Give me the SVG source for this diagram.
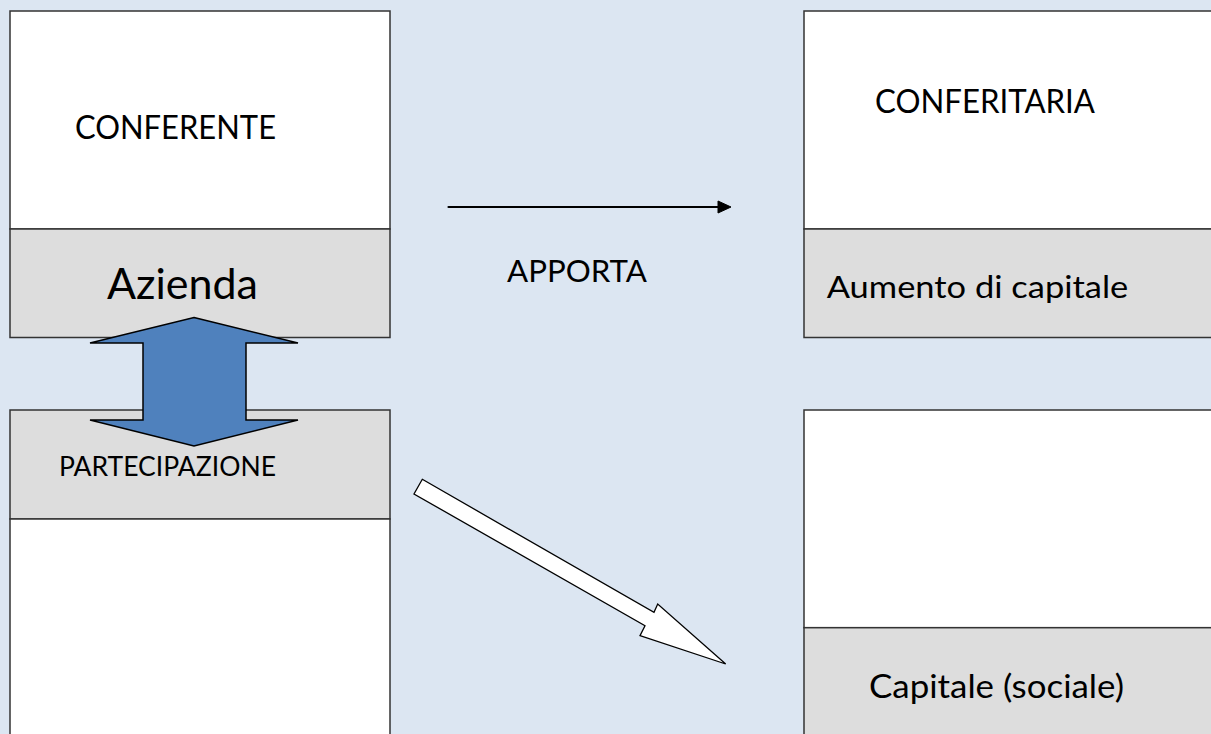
<svg xmlns="http://www.w3.org/2000/svg" width="1211" height="734" viewBox="0 0 1211 734">
<style>
.white{fill:#FFFFFF;stroke:#333333;stroke-width:1.5}
.grey{fill:#DDDDDD;stroke:#333333;stroke-width:1.5}
.t{font-family:Lato,"Liberation Sans",Arial,sans-serif;fill:#000000}
</style>
<rect x="0" y="0" width="1211" height="734" fill="#DCE6F2"/>
<g id="conferente">
<rect class="white" x="10" y="11" width="380" height="218"/>
<rect class="grey" x="10" y="229" width="380" height="108.5"/>
<text class="t" x="75" y="138.5" font-size="33" textLength="201" lengthAdjust="spacingAndGlyphs">CONFERENTE</text>
<text class="t" x="107" y="298.5" font-size="42" textLength="151" lengthAdjust="spacingAndGlyphs">Azienda</text>
</g>
<g id="partecipazione">
<rect class="grey" x="10" y="410" width="380" height="109"/>
<rect class="white" x="10" y="519" width="380" height="225"/>
<text class="t" x="59" y="475.7" font-size="27" textLength="217" lengthAdjust="spacingAndGlyphs">PARTECIPAZIONE</text>
</g>
<g id="conferitaria">
<rect class="white" x="804" y="11" width="420" height="218"/>
<rect class="grey" x="804" y="229" width="420" height="108.5"/>
<text class="t" x="875" y="113.3" font-size="32" textLength="220" lengthAdjust="spacingAndGlyphs">CONFERITARIA</text>
<text class="t" x="826.7" y="298.3" font-size="31" textLength="301.6" lengthAdjust="spacingAndGlyphs">Aumento di capitale</text>
</g>
<g id="capitale">
<rect class="white" x="804" y="410" width="420" height="217.7"/>
<rect class="grey" x="804" y="627.7" width="420" height="120"/>
<text class="t" x="869" y="698.3" font-size="32.5" textLength="255" lengthAdjust="spacingAndGlyphs">Capitale (sociale)</text>
</g>
<g id="connectors">
<polygon points="194,317.5 298,343 246,343 246,420 298,420 194,446 90,420 143,420 143,343 90,343" fill="#4F81BD" stroke="#000000" stroke-width="1.5" stroke-linejoin="miter"/>
<line x1="448.5" y1="207" x2="720" y2="207" stroke="#000000" stroke-width="2.2" stroke-linecap="round"/>
<polygon points="718,201 731,207 718,213" fill="#000000" stroke="#000000" stroke-width="1"/>
<polygon points="422.3,479.3 654,612.3 657.7,604 725.7,664 640,635.7 645,625.7 414,494" fill="#FFFFFF" stroke="#000000" stroke-width="1.3" stroke-linejoin="miter"/>
<text class="t" x="507" y="281.7" font-size="31" textLength="140" lengthAdjust="spacingAndGlyphs">APPORTA</text>
</g>
</svg>
